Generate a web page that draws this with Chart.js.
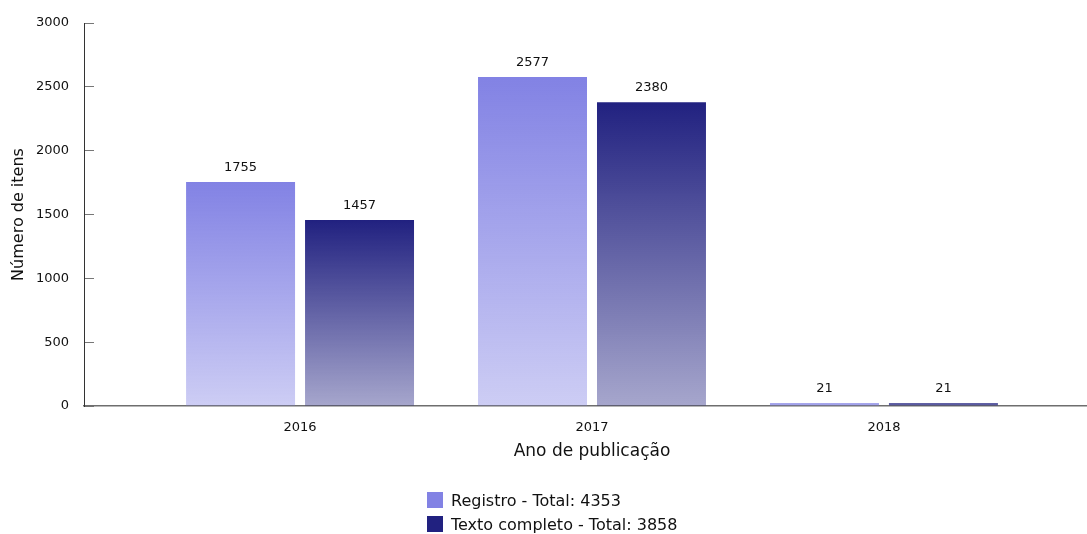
<!DOCTYPE html>
<html>
<head>
<meta charset="utf-8">
<script src="https://cdn.jsdelivr.net/npm/chart.js@4.4.0/dist/chart.umd.min.js"></script>
<style>
    html, body { margin: 0; padding: 0; background: #fff; overflow: hidden; }
    #wrap { position: relative; width: 1100px; height: 534px; }
    #legend { position: absolute; left: 427px; top: 488px; font-family: 'DejaVu Sans', sans-serif; font-size: 16px; color: #111; }
    #legend .item { display: flex; align-items: center; height: 24px; }
    #legend .box { width: 16px; height: 16px; margin-right: 8px; }
</style>
</head>
<body>
<div id="wrap">
    <canvas id="chart" width="1100" height="534"></canvas>
    <div id="legend"></div>
</div>
<script>
const years = ['2016', '2017', '2018'];
const registro = [1755, 2577, 21];
const textoCompleto = [1457, 2380, 21];
const seriesNames = ['Registro - Total: 4353', 'Texto completo - Total: 3858'];
const seriesColors = ['#8282e4', '#212180'];

const FONT = "'DejaVu Sans', sans-serif";
const textColor = '#111';

function fade(hex, a) {
    const n = parseInt(hex.slice(1), 16);
    return `rgba(${n >> 16},${(n >> 8) & 255},${n & 255},${a})`;
}

// vertical gradient per bar: full colour at the top, lighter at the base
function barGradient(color) {
    return ctx => {
        const chart = ctx.chart;
        if (!chart.chartArea || ctx.type !== 'data' || !ctx.parsed) return color;
        const y = chart.scales.y;
        const top = y.getPixelForValue(ctx.parsed.y);
        const base = y.getPixelForValue(0);
        if (!isFinite(top) || !isFinite(base) || base - top < 1) return color;
        const g = chart.ctx.createLinearGradient(0, top, 0, base);
        g.addColorStop(0, color);
        g.addColorStop(1, fade(color, 0.4));
        return g;
    };
}

const valueLabels = {
    id: 'valueLabels',
    afterDatasetsDraw(chart) {
        const c = chart.ctx;
        c.save();
        c.font = '13px ' + FONT;
        c.fillStyle = textColor;
        c.textAlign = 'center';
        c.textBaseline = 'alphabetic';
        chart.data.datasets.forEach((ds, i) => {
            chart.getDatasetMeta(i).data.forEach((bar, j) => {
                c.fillText(String(ds.data[j].y), bar.x, bar.y - 11);
            });
        });
        c.restore();
    }
};

new Chart(document.getElementById('chart'), {
    type: 'bar',
    data: {
        datasets: [
            {
                label: seriesNames[0],
                data: registro.map((v, i) => ({ x: i, y: v })),
                backgroundColor: barGradient(seriesColors[0])
            },
            {
                label: seriesNames[1],
                data: textoCompleto.map((v, i) => ({ x: i, y: v })),
                backgroundColor: barGradient(seriesColors[1])
            }
        ]
    },
    options: {
        responsive: false,
        animation: false,
        categoryPercentage: 0.815,
        barPercentage: 0.916,
        layout: { padding: { top: 23, right: 0, bottom: 64, left: 0 } },
        plugins: {
            legend: { display: false },
            tooltip: { enabled: false }
        },
        scales: {
            x: {
                type: 'linear',
                offset: false,
                bounds: 'data',
                min: -0.74,
                max: 2.74,
                afterBuildTicks: s => { s.ticks = years.map((y, i) => ({ value: i })); },
                afterFit: s => { s.height = 64; },
                grid: { display: false, drawTicks: false, offset: false },
                border: { color: '#6e6e6e', width: 1.5 },
                ticks: {
                    padding: 14,
                    color: textColor,
                    font: { family: FONT, size: 13 },
                    callback: v => years[v]
                },
                title: {
                    display: true,
                    text: 'Ano de publicação',
                    color: textColor,
                    font: { family: FONT, size: 17 },
                    padding: { top: 0, bottom: 8 }
                }
            },
            y: {
                min: 0,
                max: 3000,
                afterFit: s => { s.width = 84; s.paddingTop = 0; s.paddingBottom = 0; },
                grid: { drawOnChartArea: false, drawTicks: true, tickLength: -10, color: '#777' },
                border: { color: '#333', width: 1 },
                ticks: {
                    stepSize: 500,
                    padding: 25,
                    color: textColor,
                    font: { family: FONT, size: 13 },
                    callback: v => String(v)
                },
                title: {
                    display: true,
                    text: 'Número de itens',
                    color: textColor,
                    font: { family: FONT, size: 16 },
                    padding: { top: 9, bottom: 0 }
                }
            }
        }
    },
    plugins: [valueLabels]
});

// legend as a vertical list
const legend = document.getElementById('legend');
seriesNames.forEach((name, i) => {
    legend.innerHTML += `<div class="item"><span class="box" style="background:${seriesColors[i]}"></span>${name}</div>`;
});
</script>
</body>
</html>
